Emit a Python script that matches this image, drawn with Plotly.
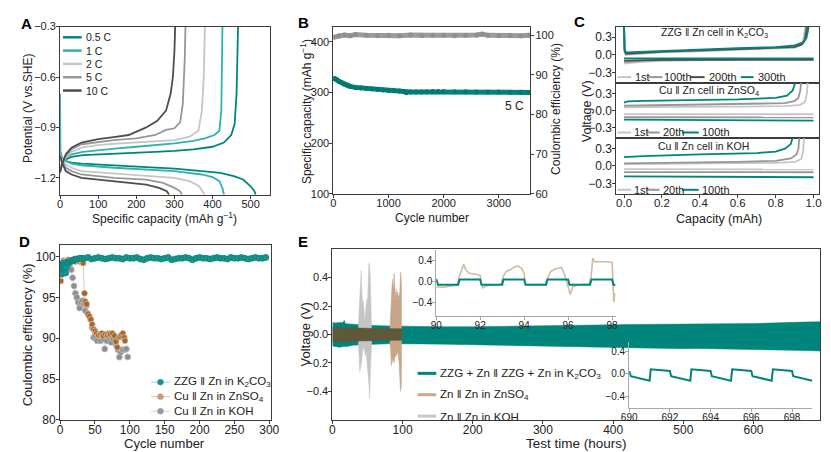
import plotly.graph_objects as go

W, H = 831, 452
FONT = "Liberation Sans, Arial, sans-serif"
TEAL = "#00857c"
TEAL2 = "#30b2ac"
GRAY_L = "#c6c6c6"
GRAY_M = "#979797"
GRAY_D = "#4d4d4d"
TAN = "#c9a98c"
LINE = "#3c3c3c"

# ---------------- Panel A data (specific capacity mAh/g, potential V vs SHE)
a_labels = ["0.5 C", "1 C", "2 C", "5 C", "10 C"]
a_colors = [TEAL, TEAL2, GRAY_L, GRAY_M, GRAY_D]
a_chg_cap = [
    [0, 5, 15, 30, 60, 100, 150, 200, 250, 300, 350, 400, 430, 449, 458, 463, 466, 467],
    [0, 5, 15, 30, 60, 100, 150, 200, 250, 300, 350, 380, 405, 418, 423, 425, 426],
    [0, 5, 15, 30, 56, 100, 141, 200, 250, 300, 340, 363, 372, 377, 380],
    [0, 5, 15, 30, 56, 100, 141, 200, 250, 278, 300, 315, 322, 327, 329],
    [0, 5, 15, 30, 56, 100, 141, 180, 226, 255, 278, 290, 296, 300, 302],
]
a_chg_v = [
    [-1.16, -1.12, -1.09, -1.075, -1.065, -1.06, -1.055, -1.05, -1.045, -1.04, -1.03, -1.015, -0.99, -0.945, -0.88, -0.7, -0.45, -0.3],
    [-1.15, -1.11, -1.08, -1.06, -1.045, -1.035, -1.025, -1.015, -1.005, -0.995, -0.98, -0.965, -0.945, -0.92, -0.8, -0.55, -0.3],
    [-1.16, -1.12, -1.08, -1.045, -1.02, -1.005, -0.997, -0.99, -0.985, -0.975, -0.955, -0.92, -0.8, -0.6, -0.3],
    [-1.16, -1.12, -1.07, -1.03, -1.0, -0.985, -0.975, -0.965, -0.945, -0.915, -0.905, -0.87, -0.76, -0.5, -0.3],
    [-1.17, -1.12, -1.06, -1.02, -0.99, -0.97, -0.958, -0.945, -0.9, -0.86, -0.8, -0.7, -0.6, -0.45, -0.3],
]
a_dis_cap = [
    [0, 5, 15, 30, 56, 141, 226, 300, 372, 420, 456, 480, 500, 510, 513],
    [0, 1, 5, 15, 30, 56, 141, 226, 300, 372, 400, 418, 426, 430],
    [0, 5, 15, 30, 56, 141, 226, 300, 340, 365, 379],
    [0, 5, 15, 30, 56, 141, 226, 270, 300, 315, 320],
    [0, 5, 15, 30, 56, 141, 226, 260, 280, 286],
]
a_dis_v = [
    [-1.06, -1.08, -1.1, -1.11, -1.115, -1.125, -1.135, -1.145, -1.16, -1.17, -1.19, -1.21, -1.25, -1.28, -1.30],
    [-0.70, -1.04, -1.08, -1.1, -1.115, -1.125, -1.14, -1.15, -1.16, -1.18, -1.195, -1.22, -1.26, -1.30],
    [-1.06, -1.09, -1.12, -1.14, -1.16, -1.175, -1.19, -1.2, -1.22, -1.25, -1.30],
    [-1.06, -1.1, -1.14, -1.16, -1.18, -1.2, -1.21, -1.23, -1.26, -1.28, -1.30],
    [-1.07, -1.11, -1.16, -1.18, -1.2, -1.22, -1.24, -1.26, -1.28, -1.30],
]

# ---------------- Panel B data
b_cycles = [0, 30, 60, 100, 150, 200, 250, 300, 400, 500, 600, 700, 800, 900, 1000, 1100, 1200,
            1280, 1320, 1400, 1500, 1600, 1700, 1800, 1900, 2000, 2200, 2400, 2600, 2800, 3000,
            3200, 3400, 3550]
b_capacity = [328, 327, 325, 322, 319, 316, 314, 312, 310, 309, 308, 307, 306, 305, 304, 303.5, 303,
              302, 299.5, 301, 301, 301, 301.5, 302, 302, 302, 301.5, 301.5, 301, 301, 301,
              300.5, 300.5, 300]
b_ce_cycles = [0, 100, 200, 300, 400, 600, 800, 1000, 1200, 1400, 1600, 1800, 2000, 2200, 2400,
               2600, 2700, 2800, 3000, 3200, 3400, 3550]
b_ce = [99.5, 99.9, 100.1, 99.9, 100.2, 100.0, 99.9, 100.0, 99.9, 100.1, 99.9, 100.0, 100.0, 99.9,
        100.0, 100.1, 100.3, 100.0, 99.9, 100.0, 99.9, 100.0]

# ---------------- Panel C data (capacity mAh, voltage V)
c_titles = ["ZZG ‖ Zn cell in K<sub>2</sub>CO<sub>3</sub>", "Cu ‖ Zn cell in ZnSO<sub>4</sub>",
            "Cu ‖ Zn cell in KOH"]
c_top_labels = ["1st", "100th", "200th", "300th"]
c_top_colors = [GRAY_L, GRAY_M, GRAY_D, TEAL]
c_top_chg_cap = [
    [0.0, 0.003, 0.01, 0.05, 0.2, 0.4, 0.6, 0.8, 0.9, 0.93, 0.945, 0.953, 0.957],
    [0.0, 0.003, 0.01, 0.05, 0.2, 0.4, 0.6, 0.8, 0.9, 0.935, 0.95, 0.958, 0.962],
    [0.0, 0.003, 0.01, 0.05, 0.2, 0.4, 0.6, 0.8, 0.9, 0.94, 0.955, 0.963, 0.967],
    [0.0, 0.003, 0.01, 0.05, 0.2, 0.4, 0.6, 0.8, 0.9, 0.945, 0.962, 0.97, 0.975],
]
c_top_chg_v = [
    [0.5, 0.05, 0.0, 0.01, 0.04, 0.06, 0.08, 0.1, 0.12, 0.16, 0.25, 0.4, 0.5],
    [0.5, 0.06, 0.01, 0.02, 0.05, 0.07, 0.09, 0.11, 0.13, 0.17, 0.25, 0.4, 0.5],
    [0.5, 0.07, 0.02, 0.03, 0.055, 0.075, 0.095, 0.115, 0.135, 0.18, 0.25, 0.4, 0.5],
    [0.5, 0.1, 0.04, 0.045, 0.075, 0.095, 0.115, 0.13, 0.16, 0.21, 0.28, 0.4, 0.5],
]
c_top_dis_cap = [[0.0, 0.02, 0.1, 0.2, 0.4, 0.7, 1.0]] * 4
c_top_dis_v = [
    [-0.15, -0.14, -0.12, -0.1, -0.09, -0.085, -0.085],
    [-0.12, -0.12, -0.105, -0.095, -0.09, -0.085, -0.085],
    [-0.1, -0.1, -0.09, -0.085, -0.08, -0.08, -0.08],
    [-0.06, -0.06, -0.06, -0.06, -0.06, -0.06, -0.06],
]
c_mid_labels = ["1st", "20th", "100th"]
c_mid_colors = [GRAY_L, GRAY_M, TEAL]
c_mid_chg_cap = [
    [0.0, 0.1, 0.3, 0.6, 0.85, 0.93, 0.955, 0.965, 0.97],
    [0.0, 0.1, 0.3, 0.6, 0.85, 0.9, 0.92, 0.93, 0.935],
    [0.0, 0.02, 0.1, 0.3, 0.6, 0.8, 0.86, 0.89, 0.905],
]
c_mid_chg_v = [
    [0.055, 0.06, 0.065, 0.07, 0.08, 0.1, 0.15, 0.3, 0.5],
    [0.085, 0.09, 0.095, 0.105, 0.13, 0.17, 0.22, 0.35, 0.5],
    [0.14, 0.16, 0.17, 0.18, 0.195, 0.22, 0.26, 0.35, 0.5],
]
c_mid_dis_cap = [[0.0, 0.3, 0.6, 1.0]] * 3
c_mid_dis_v = [
    [-0.06, -0.06, -0.06, -0.062],
    [-0.115, -0.115, -0.117, -0.118],
    [-0.155, -0.16, -0.166, -0.172],
]
c_bot_labels = ["1st", "20th", "100th"]
c_bot_colors = [GRAY_L, GRAY_M, TEAL]
c_bot_chg_cap = [
    [0.0, 0.2, 0.5, 0.8, 0.9, 0.935, 0.945, 0.95],
    [0.0, 0.2, 0.6, 0.8, 0.88, 0.91, 0.92, 0.925],
    [0.0, 0.1, 0.4, 0.7, 0.8, 0.85, 0.88, 0.89],
]
c_bot_chg_v = [
    [0.035, 0.04, 0.045, 0.055, 0.07, 0.12, 0.25, 0.5],
    [0.045, 0.05, 0.07, 0.09, 0.13, 0.2, 0.3, 0.5],
    [0.155, 0.17, 0.2, 0.225, 0.25, 0.3, 0.38, 0.5],
]
c_bot_dis_cap = [[0.0, 0.3, 0.6, 1.0]] * 3
c_bot_dis_v = [
    [-0.055, -0.055, -0.056, -0.058],
    [-0.105, -0.105, -0.106, -0.108],
    [-0.18, -0.185, -0.19, -0.195],
]

# ---------------- Panel D data (cycle number, coulombic efficiency %)
d_labels = ["ZZG ‖ Zn in K<sub>2</sub>CO<sub>3</sub>", "Cu ‖ Zn in ZnSO<sub>4</sub>", "Cu ‖ Zn in KOH"]
d_zzg_cycle = [1, 2, 3, 4, 5, 6, 7, 8, 9, 10, 12, 14, 16, 18, 20, 22, 25, 28, 31,
               35, 40, 45, 50, 55, 60, 65, 70, 75, 80, 85, 90, 95, 100, 105, 110, 115, 120, 125,
               130, 135, 140, 145, 150, 155, 160, 165, 170, 175, 180, 185, 190, 195, 200, 205,
               210, 215, 220, 225, 230, 235, 240, 245, 250, 255, 260, 265, 270, 275, 280, 285,
               290, 295]
d_zzg_ce = [99.0, 98.6, 97.9, 98.8, 99.2, 98.9, 98.4, 98.0, 98.7, 99.3, 99.2, 99.4, 99.5, 99.5,
            99.6, 99.7, 99.7, 99.8, 99.8,
            99.8, 99.9, 99.7, 99.8, 99.9, 99.8, 99.7, 99.8, 99.9, 99.8, 99.8, 99.7, 99.9, 99.8,
            99.8, 99.9, 99.7, 99.6, 99.8, 99.9, 99.8, 99.8, 99.7, 99.8, 99.9, 99.6, 99.7, 99.8,
            99.8, 99.9, 99.8, 99.6, 99.8, 99.9, 99.8, 99.8, 99.7, 99.8, 99.9, 99.8, 99.8, 99.7,
            99.9, 99.8, 99.8, 99.9, 99.8, 99.7, 99.8, 99.9, 99.8, 99.8, 99.9]
d_zs_cycle = [1, 2, 3, 4, 5, 6, 7, 8, 10, 12, 14, 16, 18, 20, 22, 24, 26, 28, 30, 32, 33, 35, 36,
              38, 40, 42, 44, 46, 48, 50, 52, 55, 58, 60, 62, 65, 68, 70, 72, 75, 78, 80, 82, 84,
              86, 88, 90, 92, 93]
d_zs_ce = [97.0, 97.8, 98.3, 98.8, 99.2, 99.0, 99.3, 99.4, 99.5, 99.6, 99.5, 99.4, 99.6, 99.5,
           99.4, 99.6, 99.5, 99.4, 99.5, 99.3, 99.2, 95.5, 94.5, 94.2, 93.0, 92.7, 92.3, 91.7, 91.1,
           90.9, 90.6, 90.4, 90.5, 90.6, 90.3, 90.5, 90.4, 90.6, 90.5, 90.6, 90.3, 89.6, 88.9,
           90.1, 90.2, 90.4, 90.6, 90.1, 89.7]
d_koh_cycle = [1, 3, 5, 8, 10, 12, 14, 16, 18, 20, 22, 24, 26, 28, 30, 32, 34, 36, 38, 40, 44, 46,
               48, 50, 53, 56, 58, 62, 64, 67, 70, 73, 76, 80, 83, 85, 87, 89, 92, 95, 97]
d_koh_ce = [99.0, 99.2, 99.5, 99.4, 99.5, 99.5, 99.0, 98.4, 97.4, 96.4, 95.5, 95.0, 94.4, 93.7,
            94.4, 94.6, 94.2, 93.4, 94.0, 92.9, 92.3, 91.3, 90.1, 90.3, 89.7, 90.3, 89.7, 89.9,
            88.7, 89.7, 90.1, 89.5, 89.9, 89.2, 88.6, 87.7, 88.3, 88.6, 88.6, 88.7, 87.7]

# ---------------- Panel E data (test time h, voltage V) - envelopes of the dense profiles
e_labels = ["ZZG + Zn ‖ ZZG + Zn in K<sub>2</sub>CO<sub>3</sub>", "Zn ‖ Zn in ZnSO<sub>4</sub>",
            "Zn ‖ Zn in KOH"]
e_teal_t = [0, 5, 10, 15, 17, 18, 20, 30, 50, 80, 100, 130, 160, 200, 250, 300, 330, 350, 400,
            420, 450, 500, 520, 550, 600, 620, 630, 650, 670, 695]
e_teal_up = [0.085, 0.08, 0.085, 0.085, 0.1, 0.08, 0.075, 0.07, 0.065, 0.06, 0.058, 0.057, 0.055,
             0.055, 0.057, 0.06, 0.063, 0.065, 0.068, 0.07, 0.07, 0.072, 0.074, 0.075, 0.077,
             0.08, 0.086, 0.088, 0.087, 0.09]
e_teal_lo = [-0.08, -0.085, -0.09, -0.085, -0.08, -0.085, -0.085, -0.075, -0.07, -0.065, -0.064,
             -0.066, -0.068, -0.07, -0.072, -0.078, -0.082, -0.085, -0.09, -0.093, -0.095, -0.1,
             -0.098, -0.1, -0.104, -0.106, -0.108, -0.11, -0.112, -0.116]
e_koh_t = [37, 38, 39, 40, 41, 42, 43, 44, 45, 46, 47, 48, 49, 50, 51, 52, 53, 54, 55, 56]
e_koh_up = [0.06, 0.15, 0.3, 0.42, 0.45, 0.3, 0.2, 0.24, 0.15, 0.1, 0.15, 0.19, 0.25, 0.22, 0.35,
            0.5, 0.48, 0.4, 0.2, 0.05]
e_koh_lo = [-0.06, -0.15, -0.26, -0.22, -0.2, -0.18, -0.12, -0.1, -0.08, -0.1, -0.15, -0.12,
            -0.2, -0.25, -0.3, -0.35, -0.45, -0.29, -0.15, -0.05]
e_zs_t = [82, 83, 84, 85, 86, 87, 88, 89, 90, 91, 92, 93, 94, 95, 96, 97, 97.5, 98, 98.5, 99]
e_zs_up = [0.05, 0.15, 0.3, 0.35, 0.39, 0.3, 0.43, 0.3, 0.25, 0.32, 0.28, 0.3, 0.26, 0.27, 0.3,
           0.44, 0.42, 0.4, 0.3, 0.05]
e_zs_lo = [-0.05, -0.12, -0.22, -0.2, -0.17, -0.18, -0.2, -0.16, -0.15, -0.15, -0.14, -0.12,
           -0.15, -0.2, -0.25, -0.4, -0.3, -0.38, -0.2, -0.05]
e_core_t = [0, 20, 40, 60, 83, 99]
e_core_up = [0.05, 0.05, 0.045, 0.042, 0.04, 0.04]
e_core_lo = [-0.05, -0.05, -0.045, -0.042, -0.04, -0.04]
# inset 1 (90-98 h)
i1_teal_t = [90.0, 90.08, 91.0, 91.06, 92.0, 92.06, 93.0, 93.06, 94.0, 94.06, 95.0, 95.06, 96.0,
             96.06, 97.0, 97.06, 98.0, 98.06, 98.15]
i1_teal_v = [0.05, -0.06, -0.06, 0.04, 0.04, -0.06, -0.06, 0.04, 0.04, -0.06, -0.06, 0.04, 0.04,
             -0.06, -0.06, 0.04, 0.04, -0.06, -0.06]
i1_zs_t = [90.0, 90.3, 90.6, 90.95, 91.05, 91.15, 91.25, 91.35, 91.5, 91.8, 92.0, 92.05, 92.12,
           92.3, 92.6, 92.95, 93.05, 93.2, 93.4, 93.5, 93.7, 93.9, 94.0, 94.05, 94.12, 94.5, 94.95,
           95.05, 95.2, 95.4, 95.7, 95.85, 95.95, 96.1, 96.2, 96.5, 96.95, 97.05, 97.12, 97.2,
           97.6, 98.0, 98.03, 98.08, 98.12]
i1_zs_v = [-0.1, -0.11, -0.09, -0.07, 0.1, 0.2, 0.33, 0.22, 0.16, 0.14, 0.12, -0.05, -0.12,
           -0.08, -0.06, -0.05, 0.1, 0.2, 0.23, 0.27, 0.3, 0.25, 0.15, -0.02, -0.06, -0.06, -0.05,
           0.05, 0.19, 0.24, 0.27, 0.12, -0.05, -0.25, -0.1, -0.06, -0.05, 0.1, 0.45, 0.38, 0.38,
           0.37, 0.1, -0.4, -0.22]
# inset 2 (690-699 h)
i2_teal_t = [690.0, 690.08, 691.0, 691.06, 692.0, 692.06, 693.0, 693.06, 694.0, 694.06, 695.0,
             695.06, 696.0, 696.06, 697.0, 697.06, 698.0, 698.06, 699.0]
i2_teal_v = [0.05, -0.04, -0.12, 0.08, 0.05, -0.04, -0.12, 0.08, 0.05, -0.04, -0.12, 0.08, 0.05,
             -0.04, -0.12, 0.08, 0.05, -0.04, -0.12]


def X(px):
    return px / W


def Y(py):
    return 1 - py / H


def axis(xr, rng, size=11, standoff=-4, **kw):
    d = dict(domain=list(xr), range=rng, showline=True, linecolor=LINE, linewidth=1, mirror=True,
             ticks="outside", ticklen=3, tickwidth=1, tickcolor=LINE,
             tickfont=dict(family=FONT, size=size, color="#222"), showgrid=False,
             zeroline=False, fixedrange=True, ticklabelstandoff=standoff)
    d.update(kw)
    return d


fig = go.Figure()

# ---- A traces
for i in range(5):
    fig.add_trace(go.Scatter(x=a_chg_cap[i], y=a_chg_v[i], mode="lines", xaxis="x", yaxis="y",
                             line=dict(color=a_colors[i], width=1.8), showlegend=False))
    fig.add_trace(go.Scatter(x=a_dis_cap[i], y=a_dis_v[i], mode="lines", xaxis="x", yaxis="y",
                             line=dict(color=a_colors[i], width=1.8), showlegend=False))

# ---- B traces
fig.add_trace(go.Scatter(x=b_ce_cycles, y=b_ce, mode="lines+markers", xaxis="x2", yaxis="y3",
                         line=dict(color="#9b9b9b", width=5), marker=dict(size=5, color="#8f8f8f"),
                         showlegend=False))
fig.add_trace(go.Scatter(x=b_cycles, y=b_capacity, mode="lines+markers", xaxis="x2", yaxis="y2",
                         line=dict(color=TEAL, width=5), marker=dict(size=5, color="#007a72"),
                         showlegend=False))

# ---- C traces
panels = [
    ("x3", "y4", c_top_colors, c_top_chg_cap, c_top_chg_v, c_top_dis_cap, c_top_dis_v),
    ("x4", "y5", c_mid_colors, c_mid_chg_cap, c_mid_chg_v, c_mid_dis_cap, c_mid_dis_v),
    ("x5", "y6", c_bot_colors, c_bot_chg_cap, c_bot_chg_v, c_bot_dis_cap, c_bot_dis_v),
]
for xa, ya, cols, cc, cv, dc, dv in panels:
    for i in range(len(cols)):
        fig.add_trace(go.Scatter(x=cc[i], y=cv[i], mode="lines", xaxis=xa, yaxis=ya,
                                 line=dict(color=cols[i], width=1.8), showlegend=False))
        fig.add_trace(go.Scatter(x=dc[i], y=dv[i], mode="lines", xaxis=xa, yaxis=ya,
                                 line=dict(color=cols[i], width=1.8), showlegend=False))

# ---- D traces
d_sets = [
    (d_koh_cycle, d_koh_ce, "#8e8e8e", "#d2d2d2", "#bdbdbd"),
    (d_zs_cycle, d_zs_ce, "#a3652e", "#d8bea6", "#dcc0a4"),
    (d_zzg_cycle, d_zzg_ce, "#12968d", "#9ed3cf", "#0c7f78"),
]
for cx, cy_, mc, lc, oc in d_sets:
    fig.add_trace(go.Scatter(x=cx, y=cy_, mode="lines+markers", xaxis="x6", yaxis="y7",
                             line=dict(color=lc, width=0.8),
                             marker=dict(size=6, color=mc, line=dict(color=oc, width=0.8)),
                             showlegend=False))


# ---- E traces (filled envelopes)
def band(t, up, lo, color, xa="x7", ya="y8"):
    return go.Scatter(x=t + t[::-1], y=up + lo[::-1], mode="lines", fill="toself",
                      fillcolor=color, line=dict(color=color, width=0.5), xaxis=xa, yaxis=ya,
                      showlegend=False, hoverinfo="skip")


fig.add_trace(band(e_teal_t, e_teal_up, e_teal_lo, TEAL))
fig.add_trace(band(e_koh_t, e_koh_up, e_koh_lo, "#c4c4c4"))
fig.add_trace(band(e_zs_t, e_zs_up, e_zs_lo, "#c8a588"))
fig.add_trace(band(e_core_t, e_core_up, e_core_lo, "#5f593b"))

fig.add_trace(go.Scatter(x=i1_zs_t, y=i1_zs_v, mode="lines", xaxis="x8", yaxis="y9",
                         line=dict(color="#d2b9a3", width=1.6), showlegend=False))
fig.add_trace(go.Scatter(x=i1_teal_t, y=i1_teal_v, mode="lines", xaxis="x8", yaxis="y9",
                         line=dict(color=TEAL, width=2), showlegend=False))
fig.add_trace(go.Scatter(x=i2_teal_t, y=i2_teal_v, mode="lines", xaxis="x9", yaxis="y10",
                         line=dict(color=TEAL, width=2), showlegend=False))

# ---- axes
lay = {}
lay["xaxis"] = axis((X(45), X(259)), [0, 550], dtick=100, anchor="y")
lay["yaxis"] = axis((Y(186), Y(13)), [-1.30, -0.3], standoff=-2, tickvals=[-1.2, -0.9, -0.6, -0.3],
                    tickformat=".1f", anchor="x")
lay["xaxis2"] = axis((X(324), X(525)), [0, 3570], dtick=1000, anchor="y2")
lay["yaxis2"] = axis((Y(185), Y(13)), [100, 430], standoff=-2, tickvals=[100, 200, 300, 400],
                     anchor="x2")
lay["yaxis3"] = axis((Y(185), Y(13)), [60, 102.2], standoff=-1, dtick=10, anchor="x2",
                     overlaying="y2", side="right")
cy = [(13, 71), (71, 128), (128, 185)]
for k in range(3):
    xn = "xaxis%d" % (3 + k)
    yn = "yaxis%d" % (4 + k)
    bottom = (k == 2)
    lay[xn] = axis((X(613), X(820)), [-0.04, 1.03], size=11.5, anchor="y%d" % (4 + k),
                   dtick=0.2, tickformat=".1f", showticklabels=bottom,
                   ticks="outside" if bottom else "")
    lay[yn] = axis((Y(cy[k][1]), Y(cy[k][0])), [-0.48, 0.48], size=12, standoff=-2,
                   tickvals=[-0.3, 0, 0.3], tickformat=".1f", anchor="x%d" % (3 + k))
lay["xaxis6"] = axis((X(45), X(260)), [0, 302], size=12, dtick=50, anchor="y7")
lay["yaxis7"] = axis((Y(418), Y(238)), [80, 101.4], size=12, standoff=-2, dtick=5, anchor="x6")
lay["xaxis7"] = axis((X(323), X(821)), [0, 695], size=12, dtick=100, anchor="y8")
lay["yaxis8"] = axis((Y(418), Y(242)), [-0.6, 0.6], standoff=-2,
                     tickvals=[-0.4, -0.2, 0, 0.2, 0.4], tickformat=".1f", anchor="x7")
ins = dict(mirror=False, linecolor="#a8a8a8", tickcolor="#a8a8a8")
lay["xaxis8"] = axis((X(429), X(613)), [90, 98.2], size=10, standoff=-3, dtick=2, anchor="y9", **ins)
lay["yaxis9"] = axis((Y(311), Y(243)), [-0.66, 0.605], size=10, standoff=-2,
                     tickvals=[-0.4, 0, 0.4], tickformat=".1f", anchor="x8", **ins)
lay["xaxis9"] = axis((X(626), X(813)), [690, 699], size=10, standoff=-3, dtick=2, anchor="y10", **ins)
lay["yaxis10"] = axis((Y(406), Y(338)), [-0.604, 0.553], size=10, standoff=-2,
                      tickvals=[-0.4, 0, 0.4], tickformat=".1f", anchor="x9", **ins)

# ---- annotations (titles, labels, legends)
ann = []
shapes = []


def txt(px, py, s, size=12, angle=0, xanchor="center", bold=False, color="#222"):
    ann.append(dict(x=X(px), y=Y(py), xref="paper", yref="paper",
                    text=("<b>%s</b>" % s) if bold else s,
                    showarrow=False, textangle=angle, xanchor=xanchor, yanchor="middle",
                    borderpad=0, font=dict(family=FONT, size=size, color=color)))


def seg(x0, x1, py, color, width=2):
    shapes.append(dict(type="line", xref="paper", yref="paper", x0=X(x0), x1=X(x1), y0=Y(py),
                       y1=Y(py), line=dict(color=color, width=width)))


# panel letters
txt(11, 10, "A", 15, bold=True, color="#000")
txt(294, 9, "B", 15, bold=True, color="#000")
txt(575, 8, "C", 15, bold=True, color="#000")
txt(9, 234, "D", 15, bold=True, color="#000")
txt(293, 234, "E", 15, bold=True, color="#000")

# axis titles
txt(12, 97, "Potential (V vs.SHE)", 12, angle=-90)
txt(152, 210, "Specific capacity (mAh g<sup>−1</sup>)", 12)
txt(296, 100, "Specific capacity (mAh g<sup>−1</sup>)", 12, angle=-90)
txt(551, 98, "Coulombic efficiency (%)", 12, angle=-90)
txt(425, 210, "Cycle number", 12)
txt(583, 100, "Voltage (V)", 12.5, angle=-90)
txt(718, 211, "Capacity (mAh)", 12.5)
txt(12, 330, "Coulombic efficiency (%)", 13, angle=-90)
txt(152, 442, "Cycle number", 13)
txt(296, 330, "Voltage (V)", 13, angle=-90)
txt(572, 442, "Test time (hours)", 13.5)

# A legend
for i, lab in enumerate(a_labels):
    py = 24 + i * 13.7
    seg(48, 67, py, a_colors[i], 2.5)
    txt(70, py, lab, 10.5, xanchor="left")

# B annotation
txt(509, 95, "5 C", 12)

# C panel titles and legends
txt(713, 20, c_titles[0], 10.5)
txt(707, 79, c_titles[1], 10.5)
txt(702, 136, c_titles[2], 10.5)
top_pos = [(614, 628, 631), (646, 660, 661), (688, 703, 706), (740, 753, 756)]
for (x0, x1, tx), lab, col in zip(top_pos, c_top_labels, c_top_colors):
    seg(x0, x1, 65, col, 2)
    txt(tx, 65, lab, 11, xanchor="left")
mid_pos = [(614, 628, 630), (644, 657, 659), (680, 697, 699)]
for (x0, x1, tx), lab, col in zip(mid_pos, c_mid_labels, c_mid_colors):
    seg(x0, x1, 122, col, 2)
    txt(tx, 122, lab, 11, xanchor="left")
for (x0, x1, tx), lab, col in zip(mid_pos, c_bot_labels, c_bot_colors):
    seg(x0, x1, 181, col, 2)
    txt(tx, 181, lab, 11, xanchor="left")

# D legend
d_leg = [("#12968d", "#9ed3cf"), ("#c49c7c", "#d8bea6"), ("#9a9a9a", "#d2d2d2")]
for i, (lab, (mc, lc)) in enumerate(zip(d_labels, d_leg)):
    py = 379 + i * 15
    seg(138, 157, py, lc, 1)
    shapes.append(dict(type="circle", xref="paper", yref="paper", x0=X(144.5), x1=X(150.5),
                       y0=Y(py + 3), y1=Y(py - 3), fillcolor=mc, line=dict(color=mc, width=0.5)))
    txt(160, py, lab, 11.5, xanchor="left")

# E legend
e_leg_cols = [TEAL, TAN, "#c8c8c8"]
for i, (lab, col) in enumerate(zip(e_labels, e_leg_cols)):
    py = 370 + i * 22
    seg(410, 429, py, col, 3)
    txt(432, py, lab, 11.6, xanchor="left")

fig.update_layout(
    width=W, height=H, autosize=False,
    margin=dict(l=0, r=0, t=0, b=0, pad=0),
    paper_bgcolor="white", plot_bgcolor="rgba(0,0,0,0)",
    font=dict(family=FONT, size=11, color="#222"),
    showlegend=False, annotations=ann, shapes=shapes, **lay,
)

fig.write_html("out.html", include_plotlyjs=True, config={"displayModeBar": False})
